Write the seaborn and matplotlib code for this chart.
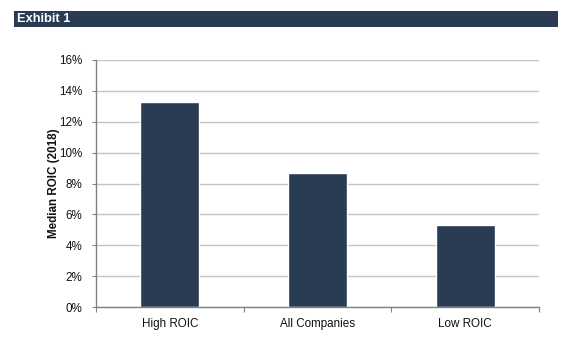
import matplotlib
matplotlib.use("Agg")
import matplotlib.pyplot as plt
import seaborn as sns
import pandas as pd
from matplotlib.patches import Rectangle
from matplotlib.ticker import FuncFormatter, FixedLocator

categories = ["High ROIC", "All Companies", "Low ROIC"]
values = [13.3, 8.7, 5.3]
y_ticks = [0, 2, 4, 6, 8, 10, 12, 14, 16]
title = "Exhibit 1"
ylabel = "Median ROIC (2018)"

sns.set_theme(style="white")
plt.rcParams['font.family'] = ['Liberation Sans', 'DejaVu Sans']

navy = "#2A3C54"
df = pd.DataFrame({"cat": categories, "val": values})

fig = plt.figure(figsize=(5.77, 3.44), dpi=100)
W, H = 577, 344
ax = fig.add_axes([96 / W, 1 - 307 / H, (539 - 96) / W, (307 - 60) / H])

sns.barplot(data=df, x="cat", y="val", color=navy, width=0.40, ax=ax, saturation=1)

ax.set_ylim(0, 16)
ax.set_xlim(-0.5, 2.5)
ax.yaxis.set_major_locator(FixedLocator(y_ticks))
ax.yaxis.set_major_formatter(FuncFormatter(lambda v, p: f"{int(v)}%"))
ax.grid(axis="y", color="#c4c4c4", linewidth=1.0)
ax.set_axisbelow(True)

for s in ["top", "right"]:
    ax.spines[s].set_visible(False)
for s in ["left", "bottom"]:
    ax.spines[s].set_color("#808080")
    ax.spines[s].set_linewidth(1.0)

ax.tick_params(axis="y", which="major", left=True, length=3, width=0.8, color="#808080",
               labelsize=8.4, labelcolor="#111111", pad=7)
ax.tick_params(axis="x", which="major", bottom=False, length=0, labelsize=8.4, labelcolor="#111111", pad=8)
ax.set_xticks([-0.5, 0.5, 1.5, 2.5], minor=True)
ax.tick_params(axis="x", which="minor", bottom=True, length=3.5, width=0.8, color="#808080")

ax.set_xlabel("")
ax.set_ylabel(ylabel, fontsize=8.4, fontweight="bold", color="#111111")
ax.yaxis.set_label_coords((59.5 - 96) / 443, 0.5)

fig.patches.append(Rectangle((14 / W, 1 - 27 / H), (558 - 14) / W, 16 / H,
                             transform=fig.transFigure, facecolor=navy, edgecolor="none"))
fig.text(17 / W, 1 - 19 / H, title, color="white", fontsize=9.3, fontweight="bold",
         va="center", ha="left")

fig.savefig("out.png", dpi=100)
